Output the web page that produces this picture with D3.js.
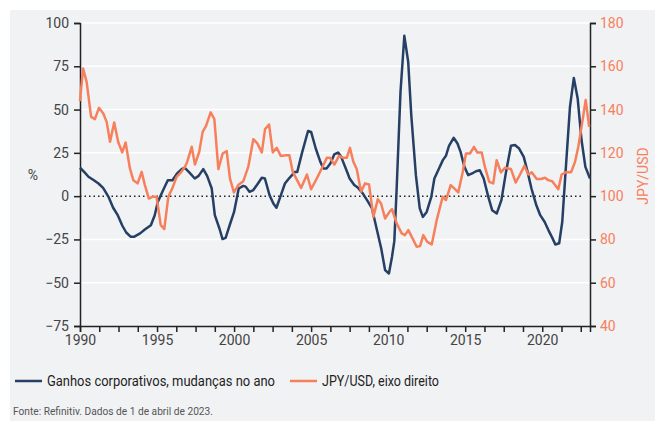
<!DOCTYPE html>
<html>
<head>
<meta charset="utf-8">
<script src="https://cdn.jsdelivr.net/npm/d3@7"></script>
<style>
  body { margin: 0; background: #fff; }
  svg { display: block; font-family: Roboto, "Noto Sans", sans-serif; }
</style>
</head>
<body>
<svg id="chart" width="655" height="421"></svg>
<script>
// corporate earnings, change on year (%), left axis
let earnings = [
    [1990.0, 16.4], [1990.3, 13.7], [1990.55, 11.2], [1990.9, 9.2], [1991.2, 7.3], [1991.5, 4.8],
    [1991.85, -0.4], [1992.15, -6.7], [1992.45, -11], [1992.75, -17.1], [1993.0, -21], [1993.3, -23.5],
    [1993.5, -23.5], [1993.9, -21.5], [1994.25, -19], [1994.6, -16.8], [1994.85, -11], [1995.05, -3.3],
    [1995.4, 3.5], [1995.7, 9.2], [1996.0, 9.2], [1996.3, 13.1], [1996.6, 15.6], [1996.8, 16.4],
    [1997.15, 13.1], [1997.45, 10.2], [1997.7, 11.7], [1998.0, 15.6], [1998.25, 11.7], [1998.55, 4.4],
    [1998.75, -11], [1999.05, -18.7], [1999.25, -24.8], [1999.45, -24.1], [1999.75, -15.8], [2000.0, -9.1],
    [2000.3, 4.4], [2000.6, 5.9], [2000.75, 5.5], [2001.0, 2.5], [2001.25, 3.5], [2001.55, 7.3],
    [2001.8, 10.6], [2002.0, 10.2], [2002.3, 0.6], [2002.55, -4.2], [2002.75, -6.7], [2003.0, -0.4],
    [2003.3, 7.3], [2003.6, 10.6], [2003.95, 14], [2004.1, 14], [2004.4, 24.7], [2004.8, 37.6],
    [2005.0, 37.1], [2005.3, 27.5], [2005.6, 19.8], [2005.8, 16], [2006.0, 16], [2006.25, 18.9],
    [2006.5, 24.1], [2006.75, 25.2], [2006.95, 22.7], [2007.25, 16], [2007.5, 10.2], [2007.8, 6.4],
    [2008.05, 4.8], [2008.35, 1.6], [2008.7, -3.3], [2008.95, -7.1], [2009.25, -18.7], [2009.55, -30.2],
    [2009.8, -42.7], [2010.05, -44.7], [2010.25, -35], [2010.4, -26], [2010.55, 4], [2010.8, 60],
    [2011.05, 92.6], [2011.3, 77.6], [2011.5, 46.8], [2011.8, 12.1], [2012.05, -7.1], [2012.25, -12],
    [2012.5, -9.1], [2012.8, -0.4], [2013.0, 10.2], [2013.3, 16], [2013.55, 20.8], [2013.75, 23.3],
    [2013.95, 29.1], [2014.25, 33.7], [2014.5, 30.4], [2014.7, 25.6], [2014.95, 16.9], [2015.2, 12.1],
    [2015.45, 13.1], [2015.7, 14.4], [2015.95, 15], [2016.2, 10.2], [2016.5, -0.4], [2016.75, -8.1],
    [2017.05, -10], [2017.35, -2.3], [2017.65, 14], [2017.97, 29.1], [2018.23, 29.5], [2018.5, 27.5],
    [2018.8, 22.7], [2019.05, 14], [2019.3, 4.4], [2019.6, -4.8], [2019.87, -11], [2020.15, -14.8],
    [2020.4, -19.6], [2020.67, -24.4], [2020.85, -27.9], [2021.1, -27.2], [2021.3, -14.8], [2021.5, 12.1],
    [2021.8, 51.6], [2022.05, 68.3], [2022.3, 56.4], [2022.55, 32.4], [2022.8, 16.9], [2023.1, 10.2]
];

// JPY per USD, right axis
let jpyusd = [
    [1990.0, 143.9], [1990.2, 159], [1990.43, 152.8], [1990.72, 136.6], [1990.97, 135.6], [1991.23, 140.8],
    [1991.51, 138.2], [1991.73, 134.3], [1991.95, 125.1], [1992.22, 134], [1992.48, 125], [1992.74, 120.2],
    [1992.96, 124.8], [1993.24, 112.8], [1993.46, 107.4], [1993.74, 105.9], [1994.0, 111.2], [1994.21, 105.1],
    [1994.47, 98.9], [1994.69, 99.7], [1994.97, 99.7], [1995.24, 86.6], [1995.47, 84.8], [1995.73, 99.7],
    [1995.99, 103.6], [1996.27, 108.9], [1996.55, 111], [1996.81, 113.5], [1996.96, 115.9], [1997.25, 122.8],
    [1997.46, 114.6], [1997.74, 120.5], [1997.96, 129.7], [1998.18, 132.5], [1998.48, 138.7], [1998.72, 135.6],
    [1998.98, 112.5], [1999.26, 119.7], [1999.52, 120.8], [1999.73, 108.2], [1999.99, 101.7], [2000.27, 105.1],
    [2000.6, 106.9], [2000.92, 113.5], [2001.25, 126.3], [2001.51, 124.4], [2001.8, 120.2], [2002.01, 131],
    [2002.27, 133.1], [2002.51, 120.2], [2002.77, 122.3], [2003.03, 118.6], [2003.37, 118.9], [2003.59, 118.9],
    [2003.81, 111.2], [2004.35, 103.8], [2004.73, 110], [2005.0, 103.2], [2005.37, 108.2], [2005.69, 112.8],
    [2006.02, 117.7], [2006.23, 117.7], [2006.51, 114.6], [2006.81, 118.6], [2007.09, 117.7], [2007.31, 117.7],
    [2007.52, 122.3], [2007.74, 115.9], [2007.96, 112.5], [2008.24, 102], [2008.5, 105.9], [2008.76, 105.4],
    [2009.04, 90.4], [2009.33, 98.6], [2009.54, 96.6], [2009.8, 89.7], [2010.12, 93.1], [2010.25, 94],
    [2010.55, 87.4], [2010.88, 82.8], [2011.09, 82], [2011.31, 84.3], [2011.59, 80.4], [2011.85, 76.6],
    [2012.07, 76.9], [2012.28, 82], [2012.54, 78.9], [2012.83, 77.7], [2013.15, 88.9], [2013.54, 99.7],
    [2013.75, 98.2], [2014.06, 105.1], [2014.34, 103.2], [2014.55, 101.7], [2014.84, 111.2], [2015.05, 119.7],
    [2015.31, 119.7], [2015.57, 122.8], [2015.78, 120.2], [2016.07, 120.2], [2016.28, 113.5], [2016.56, 106.6],
    [2016.82, 105.9], [2017.04, 116.6], [2017.32, 111], [2017.58, 113.1], [2017.97, 112.5], [2018.28, 106.3],
    [2018.56, 110], [2018.84, 114], [2019.1, 110], [2019.32, 111], [2019.64, 107.9], [2019.92, 107.9],
    [2020.18, 108.5], [2020.39, 107.4], [2020.65, 106.9], [2021.04, 103.2], [2021.26, 110], [2021.59, 111.2],
    [2021.87, 111], [2022.13, 115.9], [2022.34, 122.8], [2022.6, 134.3], [2022.82, 144.4], [2023.05, 132]
];

let leftTicks = [-75, -50, -25, 0, 25, 50, 75, 100];
let rightTicks = [40, 60, 80, 100, 120, 140, 160, 180];
let yearLabels = [1990, 1995, 2000, 2005, 2010, 2015, 2020];

let navy = "#263f64";
let orange = "#f7805c";
let axisText = "#444";

let svg = d3.select("#chart");

// panel background
svg.append("rect")
    .attr("x", 10).attr("y", 10)
    .attr("width", 645).attr("height", 411)
    .attr("fill", "#f1f2f4");

let x = d3.scaleLinear().domain([1990, 2023.1]).range([80, 590]);
let yL = d3.scaleLinear().domain([-75, 100]).range([326, 23]);
let yR = d3.scaleLinear().domain([40, 180]).range([326, 23]);

// white gridlines
svg.append("g")
    .selectAll("line")
    .data(leftTicks.filter(d => d != 0 && d != -75))
    .enter()
    .append("line")
        .attr("x1", 80).attr("x2", 590)
        .attr("y1", d => yL(d)).attr("y2", d => yL(d))
        .attr("stroke", "#fff")
        .attr("stroke-width", 1.5);

// dotted zero line
svg.append("line")
    .attr("x1", 80).attr("x2", 582)
    .attr("y1", yL(0)).attr("y2", yL(0))
    .attr("stroke", "#222")
    .attr("stroke-width", 1.5)
    .attr("stroke-dasharray", "1.5,3");

// left axis
let leftAxis = svg.append("g")
    .attr("transform", "translate(80,0)")
    .call(d3.axisLeft(yL).tickValues(leftTicks).tickSize(6).tickPadding(5));

// right axis
let rightAxis = svg.append("g")
    .attr("transform", "translate(590,0)")
    .call(d3.axisRight(yR).tickValues(rightTicks).tickSize(6).tickPadding(4));

// bottom axis, tick every 1.25 years
let xTicks = d3.range(0, 27).map(i => 1990 + i * 1.25);
let bottomAxis = svg.append("g")
    .attr("transform", "translate(0,326)")
    .call(d3.axisBottom(x).tickValues(xTicks).tickSize(6).tickPadding(3)
        .tickFormat(d => yearLabels.includes(d) ? d : ""));

[leftAxis, rightAxis, bottomAxis].forEach(g => {
    g.select(".domain").attr("stroke", "#222").attr("stroke-width", 1.5);
    g.selectAll(".tick line").attr("stroke", "#222").attr("stroke-width", 1.5);
    g.selectAll("text").style("font-size", "14px").style("font-family", "Roboto, sans-serif");
});
leftAxis.selectAll("text").attr("fill", axisText);
bottomAxis.selectAll("text").attr("fill", axisText);
rightAxis.selectAll("text").attr("fill", orange);

svg.append("text")
    .attr("x", 33).attr("y", 180)
    .attr("text-anchor", "middle")
    .attr("fill", axisText)
    .style("font-size", "14px")
    .text("%");

svg.append("text")
    .attr("transform", "translate(648,176) rotate(-90)")
    .attr("text-anchor", "middle")
    .attr("fill", orange)
    .style("font-size", "14px")
    .text("JPY/USD");

// lines
let lineL = d3.line().x(d => x(d[0])).y(d => yL(d[1]));
let lineR = d3.line().x(d => x(d[0])).y(d => yR(d[1]));

svg.append("path")
    .datum(earnings)
    .attr("d", lineL)
    .attr("fill", "none")
    .attr("stroke", navy)
    .attr("stroke-width", 2.5)
    .attr("stroke-linejoin", "round");

svg.append("path")
    .datum(jpyusd)
    .attr("d", lineR)
    .attr("fill", "none")
    .attr("stroke", orange)
    .attr("stroke-width", 2.5)
    .attr("stroke-linejoin", "round");

// legend
let legend = [
    { label: "Ganhos corporativos, mudanças no ano", color: navy, x: 15, w: 228 },
    { label: "JPY/USD, eixo direito", color: orange, x: 290, w: 117 }
];
let lg = svg.append("g").selectAll("g")
    .data(legend)
    .enter()
    .append("g")
        .attr("transform", d => "translate(" + d.x + ",381)");
lg.append("line")
    .attr("x1", 0).attr("x2", 27)
    .attr("stroke", d => d.color)
    .attr("stroke-width", 2.5);
lg.append("text")
    .attr("x", 32).attr("y", 5)
    .attr("fill", "#222")
    .attr("textLength", d => d.w)
    .attr("lengthAdjust", "spacingAndGlyphs")
    .style("font-size", "14px")
    .text(d => d.label);

svg.append("text")
    .attr("x", 13).attr("y", 415)
    .attr("fill", "#555")
    .attr("textLength", 200)
    .attr("lengthAdjust", "spacingAndGlyphs")
    .style("font-size", "11px")
    .text("Fonte: Refinitiv. Dados de 1 de abril de 2023.");
</script>
</body>
</html>
